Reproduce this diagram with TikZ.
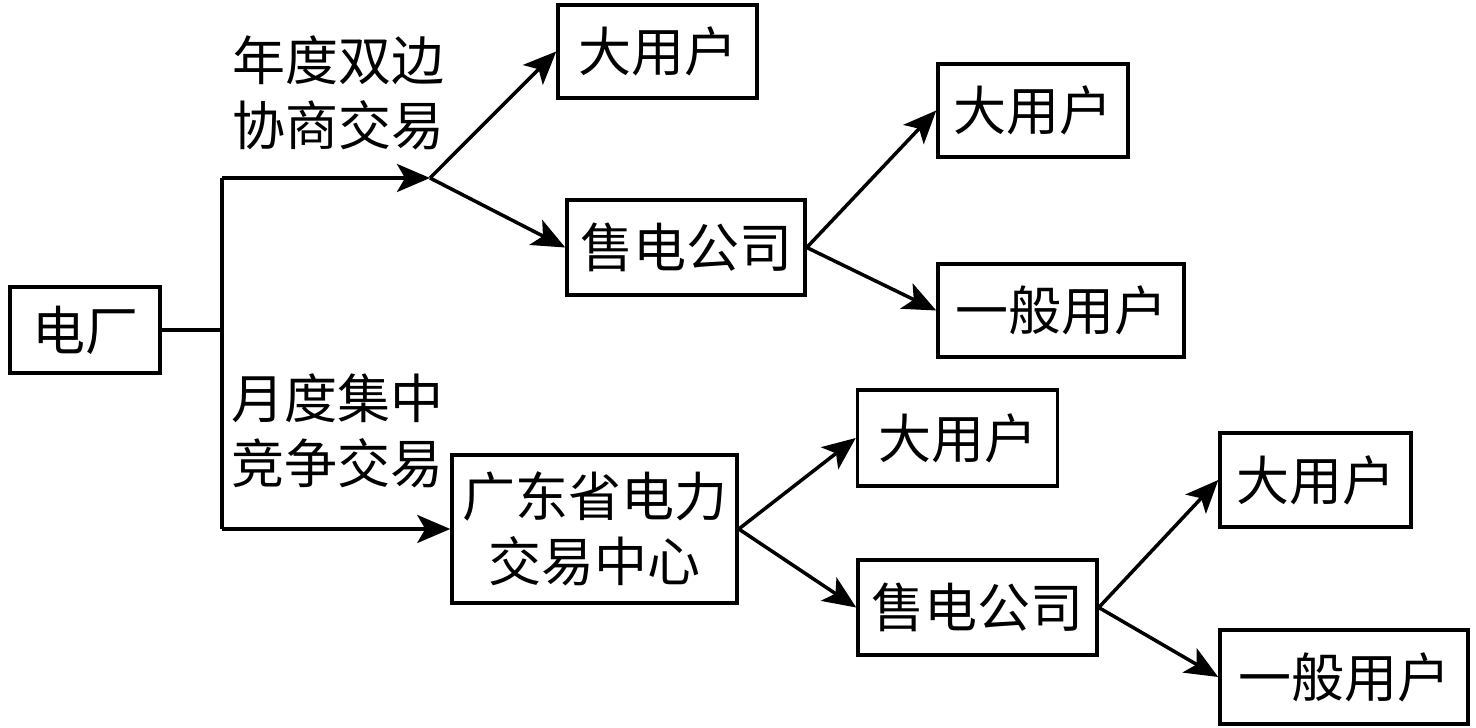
\documentclass[tikz,border=0pt]{standalone}
\usepackage{fontspec}
\newfontfamily\cjk{Noto Sans CJK SC}
\usetikzlibrary{arrows.meta}
\tikzset{
  box/.style={draw, line width=3.5pt, inner sep=0pt, font=\cjk\fontsize{53}{65}\selectfont, align=center},
  lbl/.style={inner sep=0pt, font=\cjk\fontsize{53}{65}\selectfont, align=center},
  conn/.style={line width=3.5pt},
  arr/.style={conn, -{Stealth[length=33pt,width=28pt,inset=8pt]}}
}
\begin{document}
\begin{tikzpicture}[x=1pt,y=-1pt]
\useasboundingbox (0,0) rectangle (1476,728);
\node[box, minimum width=150pt, minimum height=86pt] (plant) at (85,330) {电厂};
\node[box, minimum width=199pt, minimum height=93pt] (u1) at (657.5,51.5) {大用户};
\node[box, minimum width=238pt, minimum height=95pt] (s1) at (686,247.5) {售电公司};
\node[box, minimum width=190pt, minimum height=93pt] (u2) at (1033,110.5) {大用户};
\node[box, minimum width=246pt, minimum height=93pt] (g1) at (1061,310.5) {一般用户};
\node[box, minimum width=285pt, minimum height=148pt] (c) at (594.5,529) {广东省电力\\交易中心};
\node[box, minimum width=200pt, minimum height=96pt] (u3) at (957.5,438) {大用户};
\node[box, minimum width=239pt, minimum height=95pt] (s2) at (977.5,607.5) {售电公司};
\node[box, minimum width=191pt, minimum height=94pt] (u4) at (1315.5,480) {大用户};
\node[box, minimum width=248pt, minimum height=94pt] (g2) at (1344,677) {一般用户};
\node[lbl] (l1) at (338,92.5) {年度双边\\协商交易};
\node[lbl] (l2) at (337,430.5) {月度集中\\竞争交易};
\coordinate (jt) at (222,178);
\coordinate (jb) at (222,529);
\coordinate (split) at (430,178);
\draw[conn] (plant.east) -- (plant.east -| jt);
\draw[conn] (jt) -- (jb);
\draw[arr] (jt) -- (split);
\draw[arr] (split) -- (u1.west);
\draw[arr] (split) -- (s1.west);
\draw[arr] (jb) -- (c.west);
\draw[arr] (s1.east) -- (u2.west);
\draw[arr] (s1.east) -- (g1.west);
\draw[arr] (c.east) -- (u3.west);
\draw[arr] (c.east) -- (s2.west);
\draw[arr] (s2.east) -- (u4.west);
\draw[arr] (s2.east) -- (g2.west);
\end{tikzpicture}
\end{document}
